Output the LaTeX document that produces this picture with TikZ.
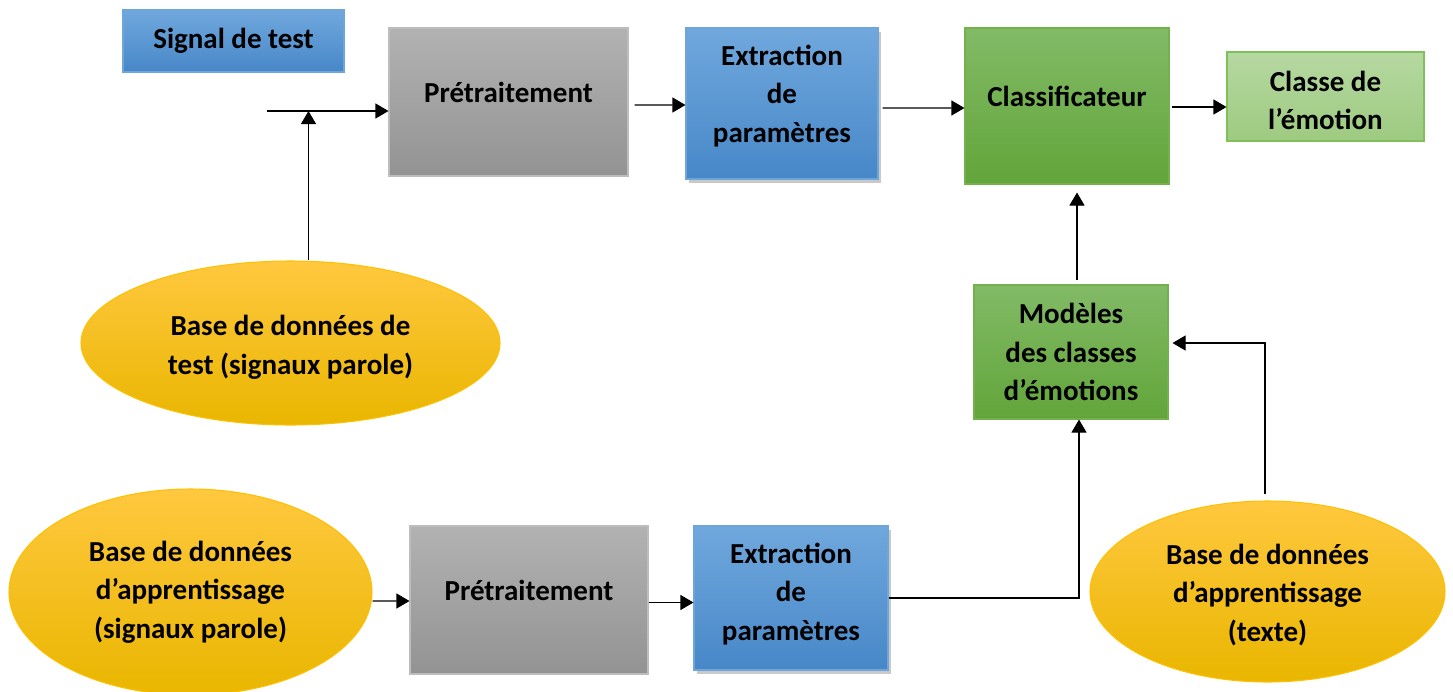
\documentclass[tikz,border=0pt]{standalone}
\usepackage{fontspec}
\setmainfont{Carlito}
\usetikzlibrary{shapes, arrows.meta, positioning, shadows}
\definecolor{BleuHaut}{HTML}{70A8DD}
\definecolor{BleuBas}{HTML}{4787C8}
\definecolor{BleuBord}{HTML}{6FA6DA}
\definecolor{GrisHaut}{HTML}{B2B2B2}
\definecolor{GrisBas}{HTML}{939393}
\definecolor{GrisBord}{HTML}{BDBDBD}
\definecolor{VertHaut}{HTML}{82BA66}
\definecolor{VertBas}{HTML}{62A53A}
\definecolor{VertBord}{HTML}{74B14C}
\definecolor{VertClairHaut}{HTML}{B6D8A1}
\definecolor{VertClairBas}{HTML}{9DCA80}
\definecolor{VertClairBord}{HTML}{7EC05A}
\definecolor{JauneHaut}{HTML}{FFC83F}
\definecolor{JauneMil}{HTML}{FFC000}
\definecolor{JauneBas}{HTML}{E9B600}

\begin{document}
\begin{tikzpicture} [
			every node/.style={font=\bfseries\fontsize{16.5pt}{21.9pt}\selectfont,align=center},
			boite/.style={rectangle,line width=0.6pt,inner sep=0pt},
			bleu/.style={boite,top color=BleuHaut,bottom color=BleuBas,draw=BleuBord},
			gris/.style={boite,top color=GrisHaut,bottom color=GrisBas,draw=GrisBord},
			vert/.style={boite,top color=VertHaut,bottom color=VertBas,draw=VertBord},
			vertclair/.style={boite,top color=VertClairHaut,bottom color=VertClairBas,draw=VertClairBord},
			ombre/.style={drop shadow={shadow xshift=0.05cm,shadow yshift=-0.07cm,opacity=0.3,fill=black!70}},
			base/.style={ellipse,inner sep=0pt,line width=0.6pt,draw=JauneMil,top color=JauneHaut,middle color=JauneMil,bottom color=JauneBas},
			texte/.style={draw=none,fill=none,inner sep=0pt},
			fleche/.style={-{Triangle[length=0.26cm,width=0.3cm]},line width=0.6pt}
		]
			\useasboundingbox (0,0) rectangle (29.06,-13.82);
			% chaine de test
			\node at (4.67,-0.82) [bleu,minimum width=4.42cm,minimum height=1.24cm] (nodeSignal) {Signal de test};
			\node at (10.17,-2.04) [gris,minimum width=4.78cm,minimum height=2.96cm,label={[texte,yshift=0.2cm]center:Prétraitement}] (nodePretHaut) {};
			\node at (15.64,-2.07) [bleu,ombre,minimum width=3.84cm,minimum height=3.02cm,label={[texte,yshift=0.15cm]center:Extraction\\de\\paramètres}] (nodeExtHaut) {};
			\node at (21.34,-2.12) [vert,minimum width=4.08cm,minimum height=3.12cm,label={[texte,yshift=0.2cm]center:Classificateur}] (nodeClassif) {};
			\node at (26.51,-1.93) [vertclair,minimum width=3.94cm,minimum height=1.78cm,label={[texte,yshift=-0.08cm]center:Classe de\\l’émotion}] (nodeClasse) {};
			\node at (21.42,-7.04) [vert,minimum width=3.88cm,minimum height=2.68cm] (nodeModeles) {Modèles\\des classes\\d’émotions};
			\node at (5.81,-6.86) [base,minimum width=8.38cm,minimum height=3.28cm,label={[texte,yshift=-0.09cm]center:Base de données de\\test (signaux parole)}] (nodeBaseTest) {};
			% chaine d'apprentissage
			\node at (3.81,-11.84) [base,minimum width=7.26cm,minimum height=4.12cm] (nodeBaseApp) {Base de données\\d’apprentissage\\(signaux parole)};
			\node at (10.58,-12.0) [gris,minimum width=4.76cm,minimum height=2.96cm,label={[texte,yshift=0.2cm]center:Prétraitement}] (nodePretBas) {};
			\node at (15.82,-11.96) [bleu,ombre,minimum width=3.88cm,minimum height=2.88cm,label={[texte,yshift=0.08cm]center:Extraction\\de\\paramètres}] (nodeExtBas) {};
			\node at (25.35,-11.83) [base,minimum width=7.1cm,minimum height=3.62cm,label={[texte,yshift=-0.07cm]center:Base de données\\d’apprentissage\\(texte)}] (nodeBaseTexte) {};
			% liaisons
			\coordinate (entree) at (5.34,-2.22);
			\coordinate (jonction) at (6.17,-2.22);
			\coordinate (montee) at ([xshift=0.12cm,yshift=0.08cm]nodeModeles.north);
			\draw[fleche] (entree) -- (entree -| nodePretHaut.west);
			\draw[fleche] (jonction |- nodeBaseTest.north) -- (jonction);
			\draw[fleche] ([xshift=0.12cm,yshift=-0.06cm]nodePretHaut.east) -- ([yshift=-0.03cm]nodeExtHaut.west);
			\draw[fleche] ([xshift=0.08cm,yshift=-0.09cm]nodeExtHaut.east) -- ([yshift=-0.04cm]nodeClassif.west);
			\draw[fleche] ([xshift=0.04cm,yshift=-0.02cm]nodeClassif.east) -- ([yshift=-0.21cm]nodeClasse.west);
			\draw[fleche, shorten >=0.16cm] (montee) -- (montee |- nodeClassif.south);
			\draw[fleche] (nodeExtBas.east) -| ([xshift=0.16cm]nodeModeles.south);
			\draw[fleche, shorten >=0.08cm] ([xshift=-0.05cm,yshift=0.12cm]nodeBaseTexte.north) |- ([yshift=0.18cm]nodeModeles.east);
			\draw[fleche] ([yshift=-0.18cm]nodeBaseApp.east) -- ([yshift=-0.02cm]nodePretBas.west);
			\draw[fleche] ([yshift=-0.05cm]nodePretBas.east) -- ([yshift=-0.09cm]nodeExtBas.west);
		\end{tikzpicture}
\end{document}
